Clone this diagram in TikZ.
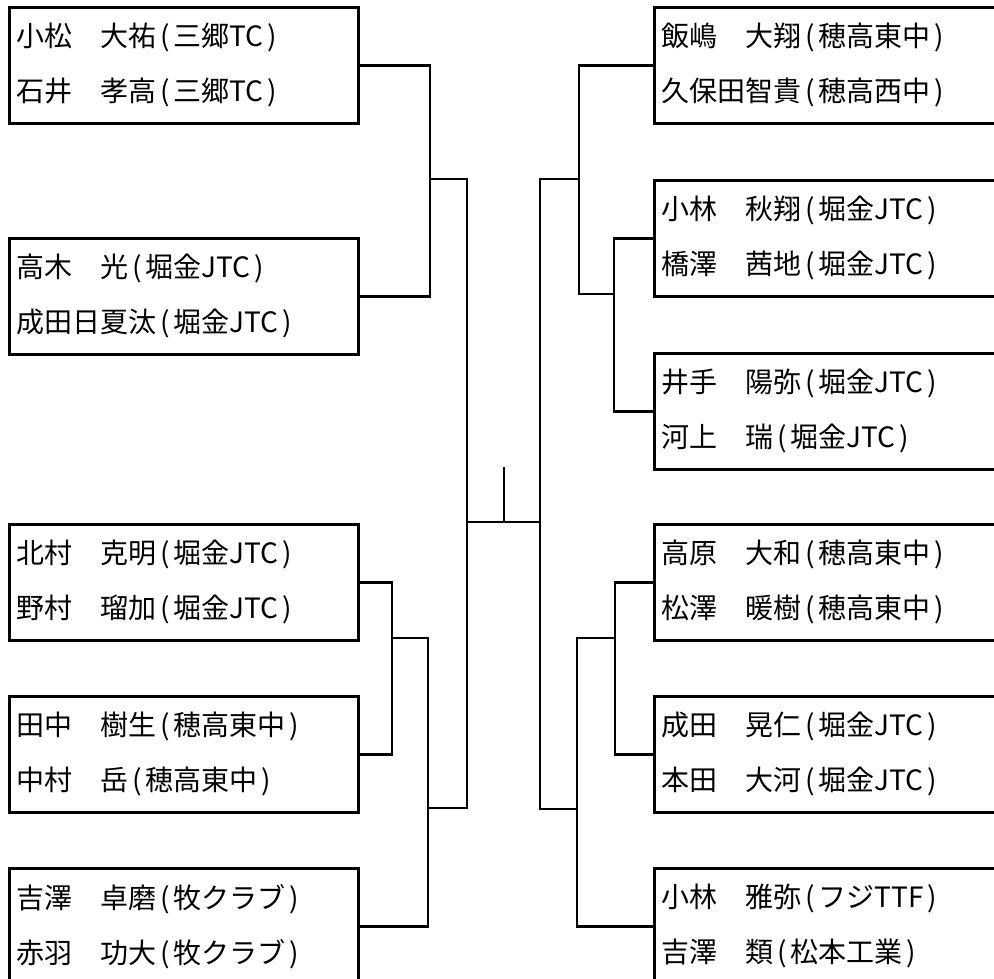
\documentclass[tikz,border=0pt]{standalone}
\usepackage{fontspec}
\setmainfont{Noto Sans CJK JP}
\usepackage{tikz}
\newcommand\team[1]{\kern4pt(\kern4pt#1\kern4pt)}

\begin{document}
\begin{tikzpicture}[x = 1pt, y = -1pt, line width=2.6pt, pair/.style={draw,line width=2.8pt,anchor=north west,align=left,minimum width=349pt,minimum height=116pt,text width=335pt,inner sep=7pt,font=\fontsize{28}{55}\selectfont}]
\useasboundingbox (0,0) rectangle (994,979);
\clip (0,0) rectangle (994,979);
\node[pair] (L1) at (8,6) {小松　大祐\team{三郷TC}\\石井　孝高\team{三郷TC}};
\node[pair] (L2) at (8,237) {高木　光\team{堀金JTC}\\成田日夏汰\team{堀金JTC}};
\node[pair] (L3) at (8,523) {北村　克明\team{堀金JTC}\\野村　瑠加\team{堀金JTC}};
\node[pair] (L4) at (8,695) {田中　樹生\team{穂高東中}\\中村　岳\team{穂高東中}};
\node[pair] (L5) at (8,867) {吉澤　卓磨\team{牧クラブ}\\赤羽　功大\team{牧クラブ}};
\node[pair] (R1) at (653,6) {飯嶋　大翔\team{穂高東中}\\久保田智貴\team{穂高西中}};
\node[pair] (R2) at (653,179) {小林　秋翔\team{堀金JTC}\\橋澤　茜地\team{堀金JTC}};
\node[pair] (R3) at (653,352) {井手　陽弥\team{堀金JTC}\\河上　瑞\team{堀金JTC}};
\node[pair] (R4) at (653,523) {高原　大和\team{穂高東中}\\松澤　暖樹\team{穂高東中}};
\node[pair] (R5) at (653,695) {成田　晃仁\team{堀金JTC}\\本田　大河\team{堀金JTC}};
\node[pair] (R6) at (653,867) {小林　雅弥\team{フジTTF}\\吉澤　類\team{松本工業}};
\coordinate (kL1) at (430,179);
\coordinate (kL2) at (392,638);
\coordinate (kL3) at (428,808);
\coordinate (sfL) at (467,522);
\coordinate (kR1) at (579,179);
\coordinate (kR2) at (614,294);
\coordinate (kR3) at (615,638);
\coordinate (kR4) at (577,809);
\coordinate (sfR) at (540,522);
\coordinate (win) at (504,467);
\draw (L1.east) -| (kL1) |- (L2.east);
\draw (L3.east) -| (kL2) |- (L4.east);
\draw (kL2) -| (kL3) |- (L5.east);
\draw (kL1) -| (sfL) |- (kL3);
\draw (R1.west) -| (kR1) |- (kR2);
\draw (R2.west) -| (kR2) |- (R3.west);
\draw (R4.west) -| (kR3) |- (R5.west);
\draw (kR3) -| (kR4) |- (R6.west);
\draw (kR1) -| (sfR) |- (kR4);
\draw (sfL) -- (sfR);
\draw (win) -- (win |- sfL);
\end{tikzpicture}
\end{document}
